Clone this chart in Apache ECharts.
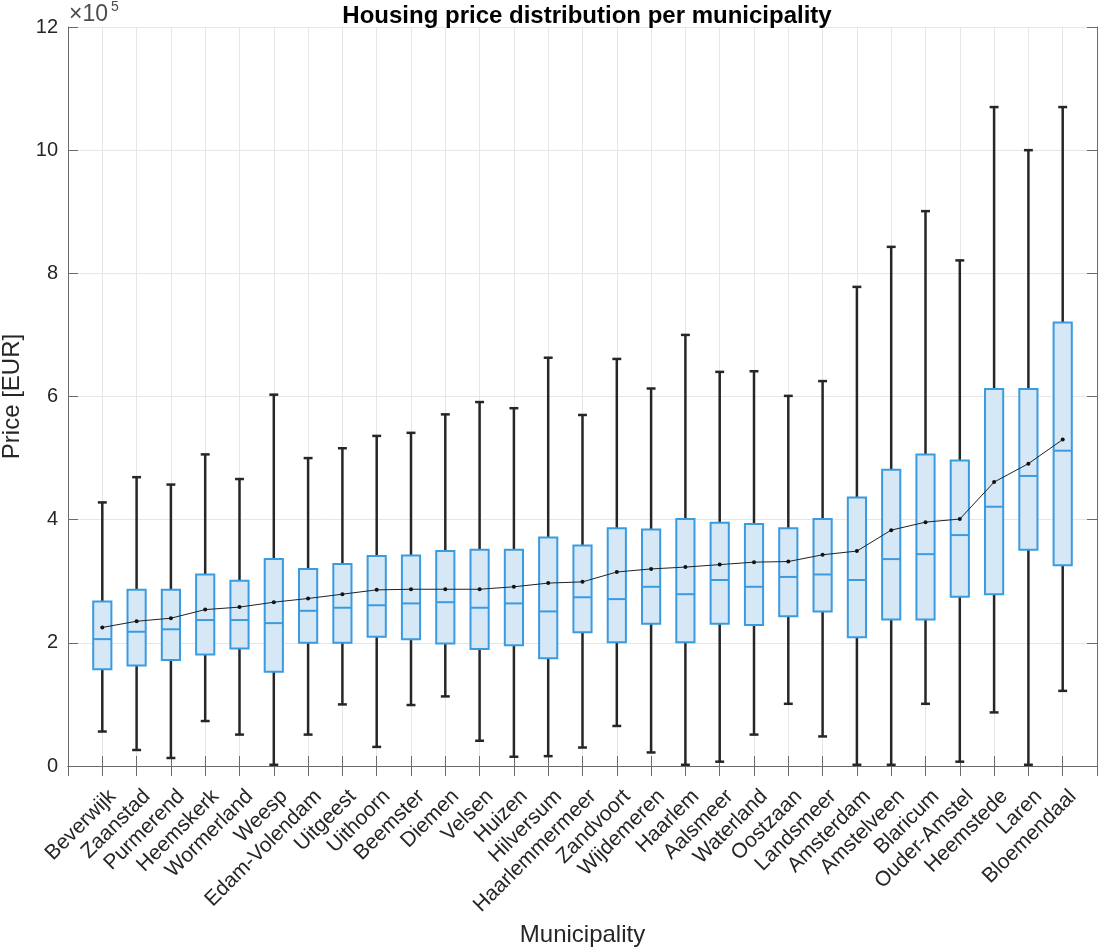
<!DOCTYPE html>
<html>
<head>
<meta charset="utf-8">
<script src="https://cdn.jsdelivr.net/npm/echarts@6/dist/echarts.min.js"></script>
<style>
html,body{margin:0;padding:0;background:#fff;}
#chart{width:1099px;height:948px;}
</style>
</head>
<body>
<div id="chart"></div>
<script>
// Municipalities (sorted by mean price)
const municipalities = ['Beverwijk','Zaanstad','Purmerend','Heemskerk','Wormerland','Weesp','Edam-Volendam','Uitgeest','Uithoorn','Beemster','Diemen','Velsen','Huizen','Hilversum','Haarlemmermeer','Zandvoort','Wijdemeren','Haarlem','Aalsmeer','Waterland','Oostzaan','Landsmeer','Amsterdam','Amstelveen','Blaricum','Ouder-Amstel','Heemstede','Laren','Bloemendaal'];
// Box plot statistics, EUR
const whiskerLow  = [56000,26000,13000,73000,51000,2000,51000,100000,31000,99000,113000,41000,15000,16000,30000,65000,22000,2000,7000,51000,101000,48000,2000,2000,101000,7000,87000,2000,122000];
const quartile1   = [157000,163000,172000,181000,191000,153000,200000,200000,210000,206000,199000,190000,196000,175000,217000,201000,231000,201000,231000,229000,243000,251000,209000,238000,238000,275000,279000,351000,326000];
const medianVals  = [206000,218000,222000,237000,237000,232000,252000,257000,261000,264000,266000,257000,264000,251000,274000,271000,291000,279000,302000,291000,307000,311000,302000,336000,344000,375000,421000,471000,512000];
const quartile3   = [267000,286000,286000,311000,301000,336000,320000,328000,341000,342000,349000,351000,351000,371000,358000,386000,384000,401000,395000,393000,386000,401000,436000,481000,506000,496000,612000,612000,720000];
const whiskerHigh = [428000,469000,457000,506000,466000,603000,500000,516000,536000,541000,571000,591000,581000,663000,570000,661000,613000,700000,640000,641000,601000,625000,778000,843000,901000,821000,1070000,1000000,1070000];
const meanVals    = [225000,235000,240000,254000,258000,266000,272000,279000,286000,287000,287000,287000,291000,297000,299000,315000,320000,323000,327000,331000,332000,343000,349000,383000,396000,401000,461000,491000,530000];
// Axis ticks
const yTicks = [0,200000,400000,600000,800000,1000000,1200000];

const axisCats = [''].concat(municipalities).concat(['']);
const boxData = municipalities.map((m,i)=>[i+1, whiskerLow[i], quartile1[i], medianVals[i], quartile3[i], whiskerHigh[i]]);
const meanData = municipalities.map((m,i)=>[i+1, meanVals[i]]);

const FONT = '"Liberation Sans", Arial, Helvetica, sans-serif';
const AXIS_COL = '#6b6b6b';
const TXT_COL = '#262626';
const GRID_COL = '#e6e6e6';
const BOX_COL = '#3a9be0';
const BOX_FILL = '#d6e8f6';
const WHISK_COL = '#262626';

const chart = echarts.init(document.getElementById('chart'), null, {renderer:'canvas'});

function renderBox(params, api){
  const x = api.value(0);
  const lo = api.coord([x, api.value(1)]);
  const q1 = api.coord([x, api.value(2)]);
  const md = api.coord([x, api.value(3)]);
  const q3 = api.coord([x, api.value(4)]);
  const hi = api.coord([x, api.value(5)]);
  const band = api.size([1,0])[0];
  const bw = band*0.53, cw = band*0.26;
  const cx = lo[0];
  const wStyle = {stroke: WHISK_COL, lineWidth: 2.5};
  return {type:'group', children:[
    {type:'line', shape:{x1:cx,y1:lo[1],x2:cx,y2:q1[1]}, style:wStyle},
    {type:'line', shape:{x1:cx,y1:q3[1],x2:cx,y2:hi[1]}, style:wStyle},
    {type:'line', shape:{x1:cx-cw/2,y1:lo[1],x2:cx+cw/2,y2:lo[1]}, style:wStyle},
    {type:'line', shape:{x1:cx-cw/2,y1:hi[1],x2:cx+cw/2,y2:hi[1]}, style:wStyle},
    {type:'rect', shape:{x:cx-bw/2,y:q3[1],width:bw,height:q1[1]-q3[1]}, style:{fill:BOX_FILL, stroke:BOX_COL, lineWidth:2}},
    {type:'line', shape:{x1:cx-bw/2,y1:md[1],x2:cx+bw/2,y2:md[1]}, style:{stroke:BOX_COL, lineWidth:2}}
  ]};
}

const option = {
  backgroundColor:'#fff',
  animation:false,
  title:{
    text:'Housing price distribution per municipality',
    left:582, top:-1, textAlign:'center',
    textStyle:{fontFamily:FONT, fontSize:24, fontWeight:'bold', color:'#000'}
  },
  grid:{left:68, right:2, top:27, bottom:182, containLabel:false, outerBoundsMode:'none'},
  xAxis:[{
    type:'category', data:axisCats, boundaryGap:false,
    name:'Municipality', nameLocation:'middle', nameGap:156,
    nameTextStyle:{fontFamily:FONT, fontSize:24, color:TXT_COL},
    axisLine:{lineStyle:{color:AXIS_COL, width:1}},
    axisTick:{inside:true, length:10, interval:0, lineStyle:{color:AXIS_COL}},
    axisLabel:{interval:0, rotate:45, margin:17, align:'right', verticalAlign:'top',
      padding:[4,0,0,0], fontFamily:FONT, fontSize:21, color:TXT_COL},
    splitLine:{show:true, interval:0, lineStyle:{color:GRID_COL, width:1}}
  },{
    type:'category', data:axisCats, boundaryGap:false, position:'top',
    axisLine:{lineStyle:{color:AXIS_COL, width:1}},
    axisTick:{inside:true, length:10, interval:0, lineStyle:{color:AXIS_COL}},
    axisLabel:{show:false}, splitLine:{show:false}
  }],
  yAxis:[{
    type:'value', min:0, max:1200000, interval:200000,
    name:'Price [EUR]', nameLocation:'middle', nameGap:40, nameRotate:90,
    nameTextStyle:{fontFamily:FONT, fontSize:24, color:TXT_COL},
    axisLine:{show:true, lineStyle:{color:AXIS_COL, width:1}},
    axisTick:{show:true, inside:true, length:10, lineStyle:{color:AXIS_COL}},
    axisLabel:{fontFamily:FONT, fontSize:20, color:TXT_COL, margin:10,
      formatter: v => yTicks.indexOf(v) >= 0 ? String(v/100000) : ''},
    splitLine:{show:true, lineStyle:{color:GRID_COL, width:1}}
  },{
    type:'value', min:0, max:1200000, interval:200000, position:'right',
    axisLine:{show:true, lineStyle:{color:AXIS_COL, width:1}},
    axisTick:{show:true, inside:true, length:10, lineStyle:{color:AXIS_COL}},
    axisLabel:{show:false}, splitLine:{show:false}
  }],
  graphic:[
    {type:'text', left:69, top:3, style:{text:'×10', fontFamily:FONT, fontSize:23, fill:'#4d4d4d'}},
    {type:'text', left:111, top:0, style:{text:'5', fontFamily:FONT, fontSize:14, fill:'#4d4d4d'}}
  ],
  series:[{
    type:'custom', xAxisIndex:0, yAxisIndex:0,
    renderItem: renderBox,
    encode:{x:0, y:[1,2,3,4,5]},
    data: boxData, z:2
  },{
    type:'line', xAxisIndex:0, yAxisIndex:0,
    data: meanData,
    symbol:'circle', symbolSize:4,
    itemStyle:{color:'#111'},
    lineStyle:{color:'#222', width:1},
    z:3
  }]
};
chart.setOption(option);
</script>
</body>
</html>
